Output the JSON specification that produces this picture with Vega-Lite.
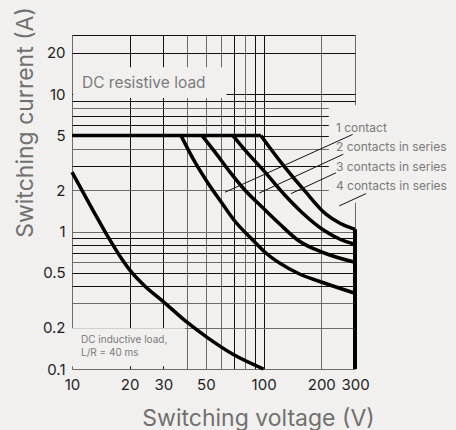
{
  "$schema": "https://vega.github.io/schema/vega-lite/v6.json",
  "width": 283,
  "height": 334,
  "autosize": {"type": "none"},
  "padding": {"left": 72, "top": 35, "right": 101, "bottom": 61},
  "background": "#f1f0ee",
  "config": {
    "font": "Inter",
    "view": {"stroke": null}
  },
  "datasets": {
    "curves": [
      {"s": "flat", "v": 10, "a": 5}, {"s": "flat", "v": 96.9, "a": 5},
      {"s": "c1", "v": 96.9, "a": 5}, {"s": "c1", "v": 105.4, "a": 4.26}, {"s": "c1", "v": 129.3, "a": 2.94}, {"s": "c1", "v": 164.5, "a": 1.97}, {"s": "c1", "v": 211.7, "a": 1.34}, {"s": "c1", "v": 250.5, "a": 1.15}, {"s": "c1", "v": 300, "a": 1.04},
      {"s": "c2", "v": 69.2, "a": 5}, {"s": "c2", "v": 80.0, "a": 3.92}, {"s": "c2", "v": 101.7, "a": 2.71}, {"s": "c2", "v": 129.3, "a": 1.84}, {"s": "c2", "v": 158.6, "a": 1.38}, {"s": "c2", "v": 209.2, "a": 1.01}, {"s": "c2", "v": 250.5, "a": 0.88}, {"s": "c2", "v": 300, "a": 0.81},
      {"s": "c3", "v": 47.7, "a": 5}, {"s": "c3", "v": 55.8, "a": 3.79}, {"s": "c3", "v": 66.8, "a": 2.71}, {"s": "c3", "v": 80.0, "a": 2.0}, {"s": "c3", "v": 98.1, "a": 1.51}, {"s": "c3", "v": 121.8, "a": 1.13}, {"s": "c3", "v": 151.2, "a": 0.866}, {"s": "c3", "v": 209.2, "a": 0.696}, {"s": "c3", "v": 300, "a": 0.598},
      {"s": "c4", "v": 37.07, "a": 5}, {"s": "c4", "v": 43.85, "a": 3.2}, {"s": "c4", "v": 51.3, "a": 2.25}, {"s": "c4", "v": 60.7, "a": 1.61}, {"s": "c4", "v": 70.9, "a": 1.19}, {"s": "c4", "v": 87.0, "a": 0.88}, {"s": "c4", "v": 101.7, "a": 0.708}, {"s": "c4", "v": 151.2, "a": 0.498}, {"s": "c4", "v": 209.2, "a": 0.421}, {"s": "c4", "v": 300, "a": 0.356},
      {"s": "ind", "v": 10, "a": 2.71}, {"s": "ind", "v": 12.87, "a": 1.43}, {"s": "ind", "v": 15.79, "a": 0.866}, {"s": "ind", "v": 17.8, "a": 0.662}, {"s": "ind", "v": 20.05, "a": 0.524}, {"s": "ind", "v": 24.04, "a": 0.4}, {"s": "ind", "v": 29.85, "a": 0.311}, {"s": "ind", "v": 39.8, "a": 0.219}, {"s": "ind", "v": 50.7, "a": 0.17}, {"s": "ind", "v": 69.2, "a": 0.128}, {"s": "ind", "v": 100, "a": 0.1}
    ],
    "limit": [{"v": 300, "a": 1.04, "a2": 0.1}],
    "masks": [
      {"v": 10.15, "v2": 64, "a": 9.4, "a2": 15.7},
      {"v": 10, "v2": 38.9, "a": 0.1046, "a2": 0.198},
      {"v": 219, "v2": 320, "a": 1.62, "a2": 8.3}
    ],
    "leaders": [
      {"v": 291.7, "a": 5.10, "v2": 62.9, "a2": 1.936},
      {"v": 260.6, "a": 3.66, "v2": 95.0, "a2": 1.91},
      {"v": 238.6, "a": 2.68, "v2": 139.0, "a2": 1.89},
      {"v": 342.2, "a": 1.89, "v2": 248.4, "a2": 1.54}
    ],
    "contacts": [
      {"v": 238.6, "a": 5.66, "t": "1 contact"},
      {"v": 238.6, "a": 4.12, "t": "2 contacts in series"},
      {"v": 238.6, "a": 2.94, "t": "3 contacts in series"},
      {"v": 238.6, "a": 2.14, "t": "4 contacts in series"}
    ],
    "resistive": [{"v": 11.27, "a": 12.05, "t": "DC resistive load"}],
    "inductive": [
      {"v": 11.14, "a": 0.162, "t": "DC inductive load,"},
      {"v": 11.14, "a": 0.130, "t": "L/R = 40 ms"}
    ]
  },
  "encoding": {
    "x": {
      "field": "v", "type": "quantitative",
      "scale": {"type": "log", "domain": [10, 300], "nice": false},
      "axis": {
        "title": "Switching voltage (V)",
        "values": [10, 20, 30, 40, 50, 60, 70, 80, 90, 100, 200, 300],
        "labelExpr": "indexof([10,20,30,50,100,200,300], datum.value) >= 0 ? format(datum.value, '~g') : ''",
        "labelOverlap": false, "labelFlush": false, "ticks": false, "domain": false,
        "grid": true, "gridWidth": 1, "gridOpacity": 1,
        "gridColor": {"condition": {"test": "indexof([10,40,50,60,80,200,300], datum.value) >= 0", "value": "#6b6b6b"}, "value": "#111111"},
        "labelFontSize": 15, "labelColor": "#1e1e1e", "labelPadding": 8, "labelFont": "Inter",
        "titleFontSize": 23, "titleFontWeight": "normal", "titleColor": "#707070", "titleFont": "Inter",
        "titleX": 186, "titleY": 49, "titleAlign": "center", "titleBaseline": "middle"
      }
    },
    "y": {
      "field": "a", "type": "quantitative",
      "scale": {"type": "log", "domain": [0.1, 27], "nice": false},
      "axis": {
        "title": "Switching current (A)",
        "values": [0.1, 0.2, 0.3, 0.4, 0.5, 0.6, 0.7, 0.8, 0.9, 1, 2, 3, 4, 5, 6, 7, 8, 9, 10, 20, 27],
        "labelExpr": "indexof([0.1,0.2,0.5,1,2,5,10,20], datum.value) >= 0 ? format(datum.value, '~g') : ''",
        "labelOverlap": false, "labelFlush": false, "ticks": false, "domain": false,
        "grid": true, "gridWidth": 1, "gridOpacity": 1,
        "gridColor": {"condition": {"test": "indexof([0.1,0.2,0.3,0.6,1,2,4,8], datum.value) >= 0", "value": "#6b6b6b"}, "value": "#111111"},
        "labelFontSize": 15, "labelColor": "#1e1e1e", "labelPadding": 7, "labelFont": "Inter",
        "titleFontSize": 23, "titleFontWeight": "normal", "titleColor": "#707070", "titleFont": "Inter",
        "titleX": -47, "titleY": 87, "titleAngle": -90, "titleAlign": "center", "titleBaseline": "middle"
      }
    }
  },
  "layer": [
    {
      "data": {"name": "masks"},
      "mark": {"type": "rect", "fill": "#f1f0ee"},
      "encoding": {"x2": {"field": "v2"}, "y2": {"field": "a2"}}
    },
    {
      "data": {"name": "curves"},
      "mark": {"type": "line", "interpolate": "monotone", "strokeWidth": 3.5, "color": "#000000"},
      "encoding": {"detail": {"field": "s", "type": "nominal"}}
    },
    {
      "data": {"name": "limit"},
      "mark": {"type": "rule", "strokeWidth": 4, "color": "#000000"},
      "encoding": {"y2": {"field": "a2"}}
    },
    {
      "data": {"name": "leaders"},
      "mark": {"type": "rule", "strokeWidth": 1, "color": "#111111"},
      "encoding": {"x2": {"field": "v2"}, "y2": {"field": "a2"}}
    },
    {
      "data": {"name": "contacts"},
      "mark": {"type": "text", "align": "left", "baseline": "middle", "fontSize": 12, "color": "#7a7a7a", "font": "Inter"},
      "encoding": {"text": {"field": "t"}}
    },
    {
      "data": {"name": "resistive"},
      "mark": {"type": "text", "align": "left", "baseline": "middle", "fontSize": 15.5, "color": "#7a7a7a", "font": "Inter"},
      "encoding": {"text": {"field": "t"}}
    },
    {
      "data": {"name": "inductive"},
      "mark": {"type": "text", "align": "left", "baseline": "middle", "fontSize": 10, "color": "#7a7a7a", "font": "Inter"},
      "encoding": {"text": {"field": "t"}}
    }
  ]
}
